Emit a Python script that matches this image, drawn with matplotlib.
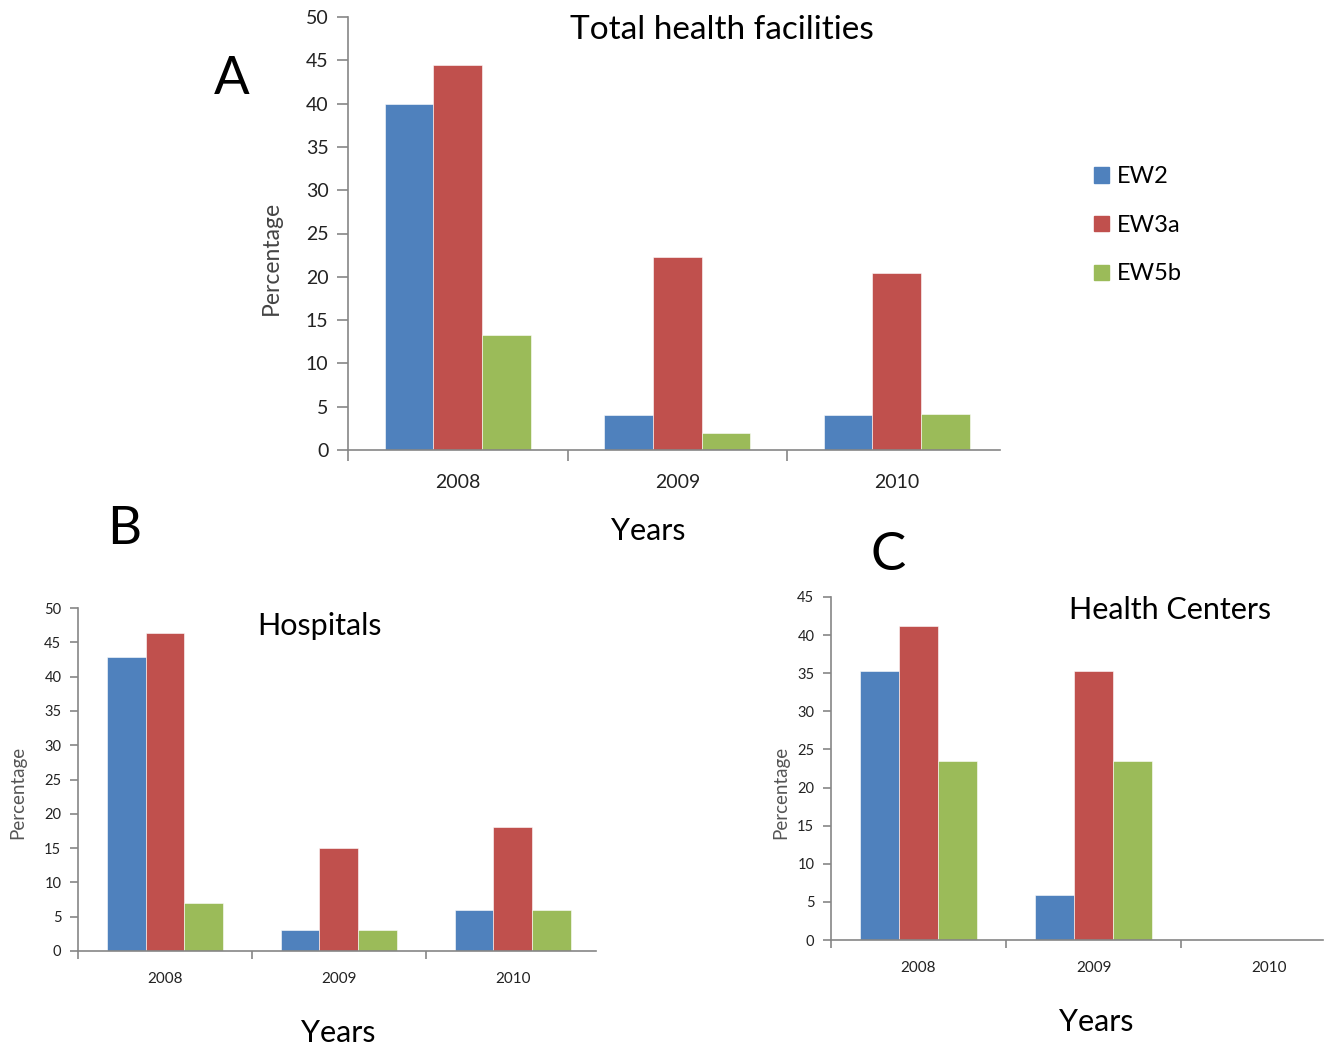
import matplotlib
matplotlib.use("Agg")
import matplotlib.pyplot as plt
import numpy as np
from matplotlib.patches import Rectangle

plt.rcParams['font.family'] = ['Lato', 'DejaVu Sans']

years = ["2008", "2009", "2010"]
series = ["EW2", "EW3a", "EW5b"]
colors = ["#4F81BD", "#C0504D", "#9BBB59"]

total_ew2 = [40.0, 4.0, 4.0]
total_ew3a = [44.4, 22.3, 20.4]
total_ew5b = [13.3, 2.0, 4.1]

hosp_ew2 = [42.9, 3.0, 6.0]
hosp_ew3a = [46.4, 15.0, 18.1]
hosp_ew5b = [7.0, 3.0, 6.0]

hc_ew2 = [35.3, 5.9, 0.0]
hc_ew3a = [41.2, 35.3, 0.0]
hc_ew5b = [23.5, 23.5, 0.0]

W, H = 1330, 1053
fig = plt.figure(figsize=(W / 100, H / 100), dpi=100)

axis_color = "#868686"


def make_ax(px_left, px_right, px_top, px_bottom):
    return fig.add_axes([px_left / W, 1 - px_bottom / H,
                         (px_right - px_left) / W, (px_bottom - px_top) / H])


def draw_panel(ax, data, ymax, ystep, tick_fs, xtick_fs, tick_len, xmax):
    n = len(series)
    bw = 1.0 / (n + 1.5)
    x = np.arange(len(years))
    for i, (vals, c) in enumerate(zip(data, colors)):
        offs = (i - (n - 1) / 2) * bw
        ax.bar(x + offs, vals, width=bw, color=c, edgecolor="white", linewidth=0.4)
    ax.set_xlim(-0.5, xmax)
    ax.set_ylim(0, ymax)
    ax.set_yticks(np.arange(0, ymax + 0.1, ystep))
    ax.set_xticks(x)
    ax.set_xticklabels(years, fontsize=xtick_fs, color="#222222")
    ax.set_xticks(np.arange(-0.5, len(years) - 0.5, 1.0), minor=True)
    ax.tick_params(axis="x", which="major", length=0)
    ax.tick_params(axis="x", which="minor", length=tick_len, color=axis_color, width=1.2, direction="out")
    ax.tick_params(axis="y", length=tick_len, color=axis_color, width=1.2, direction="out",
                   labelsize=tick_fs, labelcolor="#222222", pad=6)
    for s in ["top", "right"]:
        ax.spines[s].set_visible(False)
    for s in ["left", "bottom"]:
        ax.spines[s].set_color(axis_color)
        ax.spines[s].set_linewidth(1.2)
    ax.set_facecolor("none")


# Panel A
axA = make_ax(348, 1000, 17, 450)
draw_panel(axA, [total_ew2, total_ew3a, total_ew5b], 50, 5, 14, 14, 8, 2.47)
axA.tick_params(axis="x", which="major", pad=17)
fig.text(722 / W, 1 - 30 / H, "Total health facilities", fontsize=24, ha="center", va="center")
fig.text(271 / W, 1 - 258 / H, "Percentage", fontsize=16.5, rotation=90, ha="center", va="center", color="#444444")
fig.text(648 / W, 1 - 531 / H, "Years", fontsize=22, ha="center", va="center")
fig.text(232 / W, 1 - 80 / H, "A", fontsize=38, ha="center", va="center")

# legend
handles = [Rectangle((0, 0), 1, 1, color=c) for c in colors]
fig.legend(handles, series, loc="upper left", bbox_to_anchor=(1073 / W, 1 - 145 / H),
           frameon=False, fontsize=17, handlelength=0.62, handleheight=0.62,
           handletextpad=0.35, labelspacing=1.17)

# Panel B
axB = make_ax(78, 596, 608, 951)
draw_panel(axB, [hosp_ew2, hosp_ew3a, hosp_ew5b], 50, 5, 10.5, 11, 6, 2.48)
axB.tick_params(axis="x", which="major", pad=15)
fig.text(320 / W, 1 - 626 / H, "Hospitals", fontsize=22, ha="center", va="center")
fig.text(18 / W, 1 - 792 / H, "Percentage", fontsize=13.5, rotation=90, ha="center", va="center", color="#555555")
fig.text(338 / W, 1 - 1033 / H, "Years", fontsize=22, ha="center", va="center")
fig.text(124 / W, 1 - 530 / H, "B", fontsize=38, ha="center", va="center")

# Panel C
axC = make_ax(831, 1323, 597, 940)
draw_panel(axC, [hc_ew2, hc_ew3a, hc_ew5b], 45, 5, 10.5, 11, 6, 2.31)
axC.tick_params(axis="x", which="major", pad=15)
fig.text(1170 / W, 1 - 610 / H, "Health Centers", fontsize=22, ha="center", va="center")
fig.text(781 / W, 1 - 792 / H, "Percentage", fontsize=13.5, rotation=90, ha="center", va="center", color="#555555")
fig.text(1096 / W, 1 - 1022 / H, "Years", fontsize=22, ha="center", va="center")
fig.text(888 / W, 1 - 556 / H, "C", fontsize=38, ha="center", va="center")

fig.savefig("out.png", dpi=100, facecolor="white")
